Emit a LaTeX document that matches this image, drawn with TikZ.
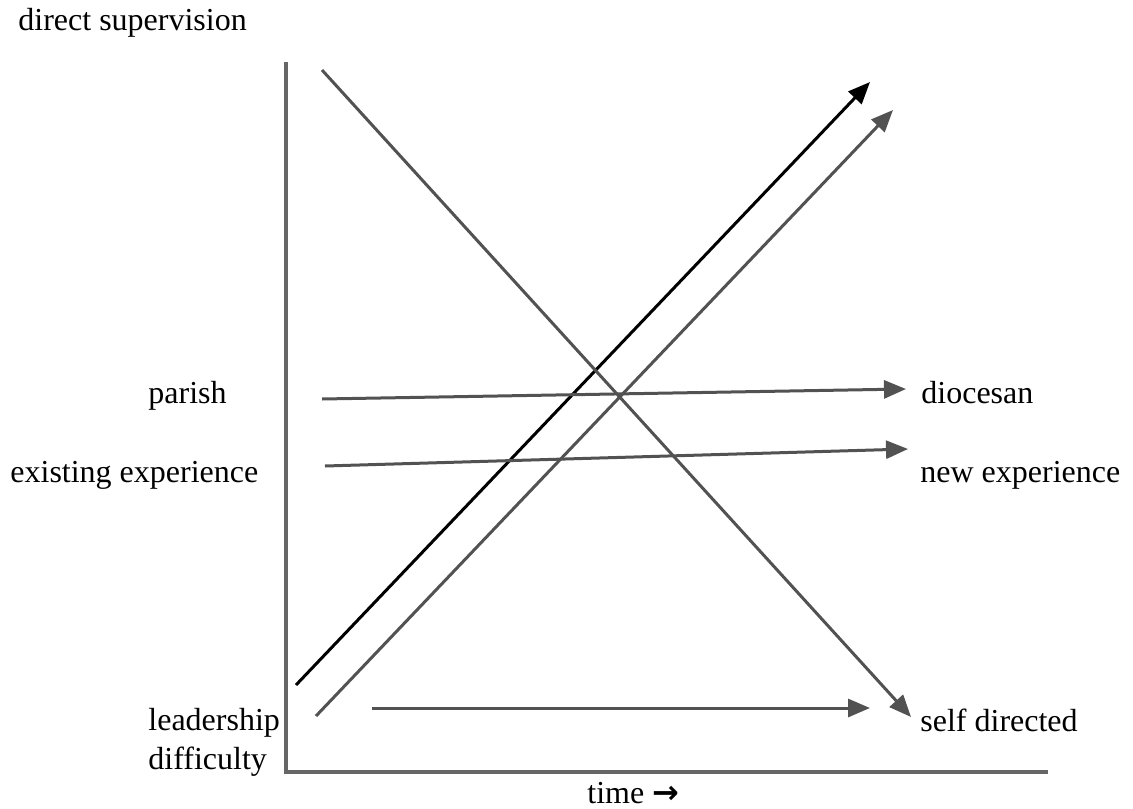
\documentclass[tikz,border=0pt]{standalone}
\usepackage{fontspec}
\setmainfont{Liberation Serif}
\newfontfamily\arrowfont{DejaVu Sans}
\usetikzlibrary{arrows.meta}
\tikzstyle{axisline}=[draw=black!60,line width=2pt]
\tikzstyle{trend}=[draw=black!68,line width=1.5pt,-{Triangle[length=11pt,width=9pt]}]
\tikzstyle{darktrend}=[trend,draw=black,fill=black]
\tikzstyle{axistext}=[inner sep=0pt,anchor=base west,font=\fontsize{16}{19.5}\selectfont]

\begin{document}
\begin{tikzpicture}[x=0.5pt,y=-0.5pt]
	\useasboundingbox (0,0) rectangle (1133,808);
	% axes
	\coordinate (top) at (286,62);
	\coordinate (origin) at (286,772);
	\coordinate (far) at (1048,772);
	\draw[axisline] (top) -- (origin) -- (far);
	% labels
	\node[axistext] (super) at (18,31) {direct supervision};
	\node[axistext] (parish) at (148,403) {parish};
	\node[axistext] (dioc) at (921,403) {diocesan};
	\node[axistext] (exist) at (10,482) {existing experience};
	\node[axistext] (newexp) at (920,482) {new experience};
	\node[axistext,align=left] (lead) at (148,769) {leadership\\difficulty};
	\node[axistext] (self) at (920,731) {self directed};
	\node[axistext] (time) at (587,803) {time {\arrowfont\bfseries →}};
	% trend ends
	\coordinate (a1) at (296,685);  \coordinate (a2) at (870,82);
	\coordinate (b1) at (316,716);  \coordinate (b2) at (893,110);
	\coordinate (c1) at (322,70);   \coordinate (c2) at (911,717);
	\coordinate (d1) at (322,399);  \coordinate (d2) at (906,389);
	\coordinate (e1) at (325,466);  \coordinate (e2) at (908,449);
	\coordinate (f1) at (372,708);  \coordinate (f2) at (870,708);
	\draw[darktrend] (a1) -- (a2);
	\draw[trend] (b1) -- (b2);
	\draw[trend] (c1) -- (c2);
	\draw[trend] (d1) -- (d2);
	\draw[trend] (e1) -- (e2);
	\draw[trend] (f1) -- (f2);
\end{tikzpicture}
\end{document}
